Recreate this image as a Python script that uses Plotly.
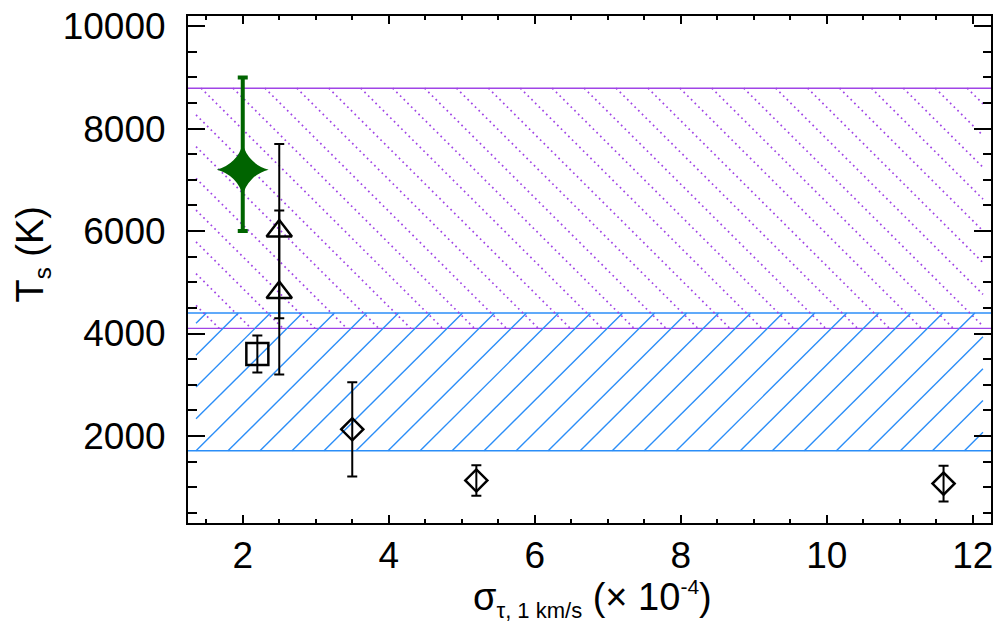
import math
import plotly.graph_objects as go

# ---------------- data ----------------
star_x = [2.0]
star_y = [7200]
star_err_plus = [1800]
star_err_minus = [1200]

tri_x = [2.5, 2.5]
tri_y = [6000, 4800]
tri_err = [1700, 1600]

sq_x = [2.2]
sq_y = [3600]
sq_err = [360]

dia_x = [3.5, 5.2, 11.6]
dia_y = [2130, 1130, 1070]
dia_err = [920, 300, 350]

purple_band = [4100, 8790]   # lower, upper Ts
blue_band = [1710, 4400]

x_ticks = [2, 4, 6, 8, 10, 12]
y_ticks = [2000, 4000, 6000, 8000, 10000]

x_range = [1.25, 12.25]
y_range = [300, 10200]

# ---------------- geometry ----------------
W, H = 999, 626
L, R, T, B = 188, 6, 12, 103
PW, PH = W - L - R, H - T - B

def x_to_px(x):
    return L + (x - x_range[0]) / (x_range[1] - x_range[0]) * PW

def y_to_py(y):
    return T + (y_range[1] - y) / (y_range[1] - y_range[0]) * PH

def px_to_x(px):
    return x_range[0] + (px - L) / PW * (x_range[1] - x_range[0])

def py_to_y(py):
    return y_range[1] - (py - T) / PH * (y_range[1] - y_range[0])

def hatch(band, direction, spacing, phase):
    span = x_range[1] - x_range[0]
    xl = x_to_px(x_range[0] + 0.01 * span)
    xr = x_to_px(x_range[1] - 0.01 * span)
    yt = y_to_py(band[1])
    yb = y_to_py(band[0])
    if direction == '/':
        cmin, cmax = xl + yt, xr + yb
    else:
        cmin, cmax = xl - yb, xr - yt
    k0 = math.floor((cmin - phase) / spacing) - 1
    k1 = math.ceil((cmax - phase) / spacing) + 1
    xs, ys = [], []
    for k in range(k0, k1 + 1):
        c = phase + k * spacing
        if direction == '/':
            xa, xb = max(xl, c - yb), min(xr, c - yt)
            pa, pb = (xa, c - xa), (xb, c - xb)
        else:
            xa, xb = max(xl, c + yt), min(xr, c + yb)
            pa, pb = (xa, xa - c), (xb, xb - c)
        if xb - xa > 0.5:
            xs += [px_to_x(pa[0]), px_to_x(pb[0]), None]
            ys += [py_to_y(pa[1]), py_to_y(pb[1]), None]
    return xs, ys

PURPLE = '#a044e6'
BLUE = '#2b8ef8'
GREEN = '#006400'

fig = go.Figure()

hx, hy = hatch(purple_band, '\\', 32.0, 116.4)
fig.add_trace(go.Scatter(x=hx, y=hy, mode='lines', hoverinfo='skip',
                         line=dict(color=PURPLE, width=1.7, dash='1.7px,3.5px'),
                         showlegend=False))
hx, hy = hatch(blue_band, '/', 32.1, 678.3)
fig.add_trace(go.Scatter(x=hx, y=hy, mode='lines', hoverinfo='skip',
                         line=dict(color=BLUE, width=1.4),
                         showlegend=False))

for yv in purple_band:
    fig.add_shape(type='line', xref='paper', x0=0, x1=1, yref='y', y0=yv, y1=yv,
                  line=dict(color=PURPLE, width=1.4), layer='below')
for yv in blue_band:
    fig.add_shape(type='line', xref='paper', x0=0, x1=1, yref='y', y0=yv, y1=yv,
                  line=dict(color=BLUE, width=1.4), layer='below')

# black points
fig.add_trace(go.Scatter(x=tri_x, y=tri_y, mode='markers', showlegend=False,
                         marker=dict(symbol='triangle-up-open', size=22,
                                     color='black', line=dict(width=2.5, color='black')),
                         error_y=dict(type='data', array=tri_err, color='black',
                                      thickness=2, width=5)))
fig.add_trace(go.Scatter(x=sq_x, y=sq_y, mode='markers', showlegend=False,
                         marker=dict(symbol='square-open', size=22,
                                     color='black', line=dict(width=2.5, color='black')),
                         error_y=dict(type='data', array=sq_err, color='black',
                                      thickness=2, width=5)))
fig.add_trace(go.Scatter(x=dia_x, y=dia_y, mode='markers', showlegend=False,
                         marker=dict(symbol='diamond-open', size=17,
                                     color='black', line=dict(width=2.5, color='black')),
                         error_y=dict(type='data', array=dia_err, color='black',
                                      thickness=2, width=5)))
# green star
fig.add_trace(go.Scatter(x=star_x, y=star_y, mode='markers', showlegend=False,
                         marker=dict(symbol='star-diamond', size=37, color=GREEN,
                                     line=dict(width=0)),
                         error_y=dict(type='data', symmetric=False,
                                      array=star_err_plus, arrayminus=star_err_minus,
                                      color=GREEN, thickness=4, width=5)))

FONT = 'Liberation Sans, Arial, Helvetica, sans-serif'

fig.update_xaxes(range=x_range, showline=True, linecolor='black', linewidth=2,
                 mirror='ticks', ticks='inside', ticklen=8, tickwidth=2,
                 tickcolor='black', tickvals=x_ticks,
                 ticktext=[str(v) for v in x_ticks], ticklabelstandoff=-1,
                 minor=dict(dtick=0.5, tick0=0, ticks='inside', ticklen=4,
                            tickwidth=2, tickcolor='black'),
                 showgrid=False, zeroline=False,
                 tickfont=dict(family=FONT, size=37, color='black'))
fig.update_yaxes(range=y_range, showline=True, linecolor='black', linewidth=2,
                 mirror='ticks', ticks='inside', ticklen=17, tickwidth=2,
                 tickcolor='black', tickvals=y_ticks,
                 ticktext=[str(v) for v in y_ticks], ticklabelstandoff=13,
                 minor=dict(dtick=500, tick0=0, ticks='inside', ticklen=8.5,
                            tickwidth=2, tickcolor='black'),
                 showgrid=False, zeroline=False,
                 tickfont=dict(family=FONT, size=37, color='black'))

fig.add_annotation(xref='paper', yref='paper', x=(594 - L) / PW, y=(H - B - 600) / PH,
                   xanchor='center', yanchor='middle', showarrow=False,
                   text='σ<sub><span style="font-size:22px">τ, 1 km/s</span></sub> (× 10<sup><span style="font-size:21px">-4</span></sup>)',
                   font=dict(family=FONT, size=38, color='black'))
fig.add_annotation(xref='paper', yref='paper', x=(32 - L) / PW, y=(H - B - 252) / PH,
                   xanchor='center', yanchor='middle', showarrow=False, textangle=-90,
                   text='T<sub><span style="font-size:24px">s</span></sub> (K)',
                   font=dict(family=FONT, size=38, color='black'))

fig.update_layout(width=W, height=H, margin=dict(l=L, r=R, t=T, b=B, pad=0),
                  paper_bgcolor='white', plot_bgcolor='white')

fig.write_html('out.html')
